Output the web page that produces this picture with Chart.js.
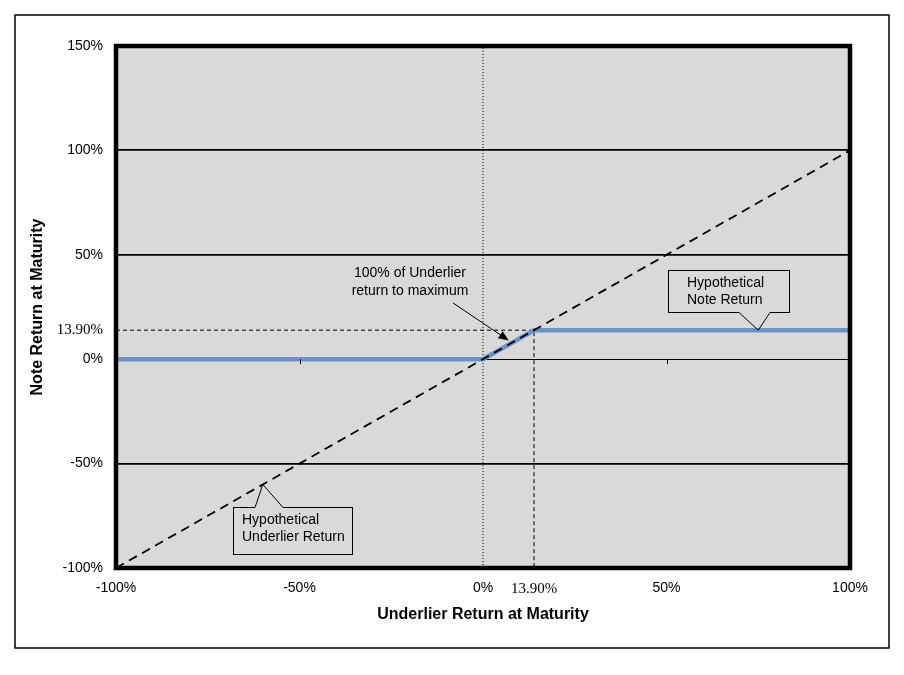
<!DOCTYPE html>
<html>
<head>
<meta charset="utf-8">
<script src="https://cdn.jsdelivr.net/npm/chart.js@4/dist/chart.umd.min.js"></script>
<style>
	body { margin: 0; background: #fff; }
	canvas { display: block; }
</style>
</head>
<body>
<canvas id="chart" width="904" height="675"></canvas>
<script>
// values (percent)
const capValue = 13.9;
const underlierX = [-100, 100];
const underlierY = [-100, 100];
const noteX = [-100, 0, 13.9, 100];
const noteY = [0, 0, 13.9, 13.9];
const zeroLineX = [0, 0];
const zeroLineY = [-100, 150];
const capGuideX = [-100, 13.9, 13.9];
const capGuideY = [13.9, 13.9, -100];
const xTicks = [-100, -50, 0, 13.9, 50, 100];
const yTicks = [-100, -50, 0, 13.9, 50, 100, 150];

const pts = (xs, ys) => xs.map((x, i) => ({ x, y: ys[i] }));
const pctLabel = (v) => (v === capValue ? "13.90%" : v + "%");

const arial = { family: "Liberation Sans, Arial, sans-serif", size: 14 };
const times = { family: "Liberation Serif, Times New Roman, serif", size: 15 };
const tickFont = (ctx) => (ctx.tick && ctx.tick.value === capValue ? times : arial);

const frame = {
	id: "frame",
	beforeDraw(chart) {
		const { ctx, chartArea: a } = chart;
		ctx.save();
		ctx.fillStyle = "#fff";
		ctx.fillRect(0, 0, chart.width, chart.height);
		ctx.strokeStyle = "#000";
		ctx.lineWidth = 1.5;
		ctx.strokeRect(15, 15, 874, 633);
		ctx.fillStyle = "#d9d9d9";
		ctx.fillRect(a.left, a.top, a.right - a.left, a.bottom - a.top);
		ctx.restore();
	},
	afterDatasetsDraw(chart) {
		const { ctx, chartArea: a, scales } = chart;
		const px = (v) => scales.x.getPixelForValue(v);
		const py = (v) => scales.y.getPixelForValue(v);
		ctx.save();

		// small x tick marks on the 0% line
		ctx.strokeStyle = "#000";
		ctx.lineWidth = 1;
		[-50, 50].forEach((v) => {
			ctx.beginPath();
			ctx.moveTo(Math.round(px(v)) + 0.5, py(0));
			ctx.lineTo(Math.round(px(v)) + 0.5, py(0) + 5);
			ctx.stroke();
		});

		// plot border
		ctx.lineWidth = 4.5;
		ctx.strokeRect(a.left, a.top, a.right - a.left, a.bottom - a.top);

		ctx.font = "14px Liberation Sans, Arial, sans-serif";
		ctx.fillStyle = "#000";
		ctx.textBaseline = "middle";

		const callout = (box, baseL, baseR, tip, lines, textX) => {
			ctx.fillStyle = "#d9d9d9";
			ctx.fillRect(box[0], box[1], box[2], box[3]);
			ctx.lineWidth = 1;
			ctx.strokeStyle = "#000";
			ctx.strokeRect(box[0] + 0.5, box[1] + 0.5, box[2], box[3]);
			const by = tip[1] > box[1] ? box[1] + box[3] + 0.5 : box[1] + 0.5;
			ctx.fillStyle = "#d9d9d9";
			ctx.fillRect(baseL, by - 1, baseR - baseL, 2);
			ctx.beginPath();
			ctx.moveTo(baseL, by);
			ctx.lineTo(tip[0], tip[1]);
			ctx.lineTo(baseR, by);
			ctx.stroke();
			ctx.fillStyle = "#000";
			ctx.textAlign = "left";
			lines.forEach((t, i) => ctx.fillText(t, textX, box[1] + 13 + i * 17));
		};
		callout([668, 270, 121, 42], 739, 770, [px(75), py(capValue)],
			["Hypothetical", "Note Return"], 687);
		callout([233, 507, 119, 47], 255, 283, [px(-60), py(-60)],
			["Hypothetical", "Underlier Return"], 242);

		// arrow label
		ctx.textAlign = "center";
		ctx.fillText("100% of Underlier", 410, 273);
		ctx.fillText("return to maximum", 410, 291);
		const tx = px(7), ty = py(9);
		const sx = 453, sy = 303;
		const ang = Math.atan2(ty - sy, tx - sx);
		ctx.beginPath();
		ctx.moveTo(sx, sy);
		ctx.lineTo(tx - 8 * Math.cos(ang), ty - 8 * Math.sin(ang));
		ctx.stroke();
		ctx.beginPath();
		ctx.moveTo(tx, ty);
		ctx.lineTo(tx - 11 * Math.cos(ang - 0.4), ty - 11 * Math.sin(ang - 0.4));
		ctx.lineTo(tx - 11 * Math.cos(ang + 0.4), ty - 11 * Math.sin(ang + 0.4));
		ctx.closePath();
		ctx.fill();

		ctx.restore();
	},
};

new Chart(document.getElementById("chart").getContext("2d"), {
	type: "line",
	data: {
		datasets: [
			{
				data: pts(underlierX, underlierY),
				borderColor: "#000",
				borderWidth: 1.8,
				borderDash: [9, 6],
				order: 1,
			},
			{
				data: pts(noteX, noteY),
				borderColor: "#6d93c6",
				borderWidth: 4.5,
				order: 2,
			},
			{
				data: pts(capGuideX, capGuideY),
				borderColor: "#000",
				borderWidth: 1,
				borderDash: [4, 3],
				order: 3,
			},
			{
				data: pts(zeroLineX, zeroLineY),
				borderColor: "#000",
				borderWidth: 1,
				borderDash: [1, 2],
				order: 4,
			},
		],
	},
	options: {
		responsive: false,
		animation: false,
		elements: { point: { radius: 0 }, line: { tension: 0 } },
		layout: { padding: { left: 15, top: 46, right: 54, bottom: 27 } },
		plugins: { legend: { display: false }, tooltip: { enabled: false } },
		scales: {
			x: {
				type: "linear",
				min: -100,
				max: 100,
				afterBuildTicks: (scale) => {
					scale.ticks = xTicks.map((value) => ({ value }));
				},
				afterFit: (scale) => {
					scale.height = 80;
				},
				grid: { display: false },
				border: { display: false },
				ticks: {
					padding: 4,
					color: "#000",
					font: tickFont,
					maxRotation: 0,
					autoSkip: false,
					callback: pctLabel,
				},
				title: {
					display: true,
					text: "Underlier Return at Maturity",
					color: "#000",
					font: { family: "Liberation Sans, Arial, sans-serif", size: 16, weight: "bold" },
					padding: { top: 0, bottom: 24 },
				},
			},
			y: {
				min: -100,
				max: 150,
				afterBuildTicks: (scale) => {
					scale.ticks = yTicks.map((value) => ({ value }));
				},
				afterFit: (scale) => {
					scale.width = 101;
				},
				grid: {
					drawTicks: false,
					color: (ctx) =>
						[50, 100, -50, 0].includes(ctx.tick.value) ? "#000" : "rgba(0,0,0,0)",
					lineWidth: (ctx) => (ctx.tick.value === 0 ? 1 : 1.8),
				},
				border: { display: false },
				ticks: {
					padding: 13,
					color: "#000",
					font: tickFont,
					autoSkip: false,
					callback: pctLabel,
				},
				title: {
					display: true,
					text: "Note Return at Maturity",
					color: "#000",
					font: { family: "Liberation Sans, Arial, sans-serif", size: 16, weight: "bold" },
					padding: { top: 13, bottom: 0 },
				},
			},
		},
	},
	plugins: [frame],
});
</script>
</body>
</html>
